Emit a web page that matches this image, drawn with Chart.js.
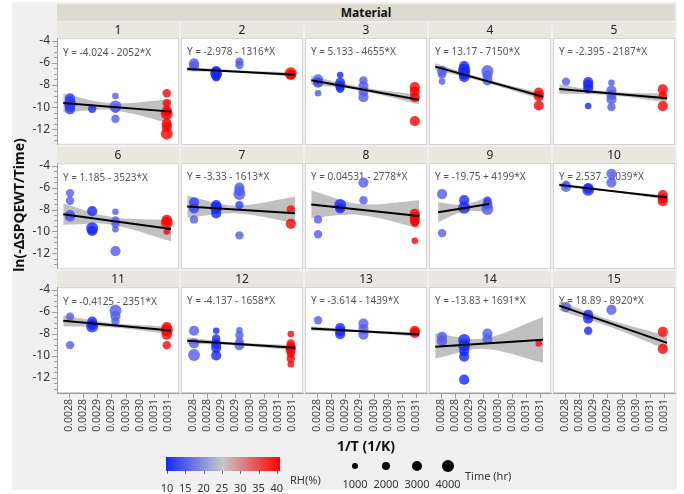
<!DOCTYPE html>
<html>
<head>
<meta charset="utf-8">
<script src="https://cdn.jsdelivr.net/npm/chart.js@4.4.1/dist/chart.umd.min.js"></script>
<style>
  body { margin: 0; background: #fff; font-family: "Noto Sans", sans-serif; }
  .abs { position: absolute; }
  #bg { left: 12px; top: 2px; width: 665px; height: 488px; background: #f0f0f0; }
  .strip { background: #e9e7df; color: #222; font-size: 12px; text-align: center; line-height: 16px; height: 16px; }
  .hdr { background: #dddbd1; color: #111; font-size: 12px; font-weight: bold; text-align: center; line-height: 17px; height: 17px; }
  .ttl { font-weight: bold; font-size: 14px; color: #111; text-align: center; line-height: 18px; white-space: nowrap; }
  .lg { font-size: 11px; color: #333; line-height: 14px; white-space: nowrap; }
</style>
</head>
<body>
<div id="bg" class="abs"></div>
<script>
// facet labels and fitted equations
const panelNames = ["1", "2", "3", "4", "5", "6", "7", "8", "9", "10", "11", "12", "13", "14", "15"];
const equations = [
  "Y = -4.024 - 2052*X", "Y = -2.978 - 1316*X", "Y = 5.133 - 4655*X", "Y = 13.17 - 7150*X", "Y = -2.395 - 2187*X",
  "Y = 1.185 - 3523*X", "Y = -3.33 - 1613*X", "Y = 0.04531 - 2778*X", "Y = -19.75 + 4199*X", "Y = 2.537 - 3039*X",
  "Y = -0.4125 - 2351*X", "Y = -4.137 - 1658*X", "Y = -3.614 - 1439*X", "Y = -13.83 + 1691*X", "Y = 18.89 - 8920*X"
];

// 1/T of the four storage temperatures
const invT = [0.002754, 0.002832, 0.002914, 0.003095];

// axis ticks
const xTickValues = [0.00275, 0.0028, 0.00285, 0.0029, 0.00295, 0.003, 0.00305, 0.0031];
const xTickLabels = ["0.0028", "0.0028", "0.0029", "0.0029", "0.0030", "0.0030", "0.0031", "0.0031"];
const yTickValues = [-4, -6, -8, -10, -12];
const xMin = 0.002708, xMax = 0.003138;
const yMin = -13.41, yMax = -3.77;

// fit lines (ends of the fitted range)
const lineStartX = [0.00273, 0.00273, 0.00273, 0.00273, 0.00273, 0.00273, 0.00273, 0.00273, 0.00274, 0.00273, 0.00273, 0.00273, 0.00273, 0.00273, 0.00273];
const lineEndX = [0.00311, 0.00311, 0.00311, 0.00311, 0.00311, 0.00311, 0.00311, 0.00311, 0.00292, 0.00311, 0.00311, 0.00311, 0.00311, 0.00311, 0.00311];
const lineStartY = [-9.63, -6.57, -7.58, -6.35, -8.37, -8.43, -7.73, -7.54, -8.25, -5.76, -6.83, -8.66, -7.54, -9.21, -5.46];
const lineEndY = [-10.41, -7.07, -9.34, -9.07, -9.20, -9.77, -8.35, -8.59, -7.49, -6.91, -7.72, -9.29, -8.09, -8.57, -8.85];

// confidence bands: [left, middle, right]
const bandMidX = [0.0029, 0.0029, 0.0029, 0.0029, 0.0029, 0.0029, 0.0029, 0.0029, 0.00283, 0.0029, 0.0029, 0.0029, 0.0029, 0.0029, 0.0029];
const bandUpper = [
  [-8.8, -9.66, -9.3], [-6.38, -6.68, -6.88], [-7.2, -8.17, -8.9], [-6.05, -7.42, -8.77], [-7.95, -8.6, -8.8],
  [-7.45, -8.68, -8.95], [-6.75, -7.65, -6.85], [-6.25, -7.5, -7.15], [-7.35, -7.57, -6.8], [-5.6, -6.2, -6.72],
  [-6.35, -7.03, -7.37], [-8.36, -8.82, -9.04], [-7.34, -7.69, -7.89], [-8.0, -8.45, -6.5], [-5.05, -6.7, -8.2]
];
const bandLower = [
  [-10.5, -10.26, -11.5], [-6.76, -6.88, -7.26], [-7.95, -8.47, -9.75], [-6.65, -7.72, -9.37], [-8.8, -8.9, -9.55],
  [-9.4, -9.38, -10.9], [-8.75, -8.35, -9.25], [-8.77, -8.5, -9.7], [-9.15, -8.17, -8.2], [-5.92, -6.36, -7.1],
  [-7.35, -7.43, -8.07], [-8.96, -9.06, -9.54], [-7.74, -7.89, -8.29], [-10.3, -9.4, -10.65], [-5.9, -7.3, -9.5]
];

// points: [temperature index, ln value, RH %, time hr]
const pts1 = [[0,-9.2,12,3000],[0,-9.45,12,3000],[0,-9.7,12,4000],[0,-9.95,12,3000],[0,-10.2,12,3000],[1,-10.15,10,2000],
  [2,-9.0,15,1000],[2,-9.95,15,4000],[2,-10.15,15,2000],[2,-11.05,15,2000],
  [3,-8.75,40,2000],[3,-9.65,40,2000],[3,-10.35,40,3000],[3,-10.6,40,4000],[3,-11.5,40,3000],[3,-11.8,40,3000],[3,-12.4,40,4000]];
const pts2 = [[0,-6.05,15,3000],[0,-6.3,15,3000],[1,-6.75,10,3000],[1,-6.95,10,4000],[1,-7.15,10,3000],[1,-7.3,10,2000],
  [2,-5.9,15,2000],[2,-6.2,15,2000],[3,-6.95,40,4000],[3,-7.1,40,3000]];
const pts3 = [[0,-7.5,15,3000],[0,-7.8,12,3000],[0,-8.75,15,1000],[1,-7.1,10,1000],[1,-7.8,10,3000],[1,-8.1,10,3000],[1,-8.35,10,2000],
  [2,-7.6,15,2000],[2,-8.1,15,3000],[2,-8.6,15,3000],[2,-9.1,15,3000],[3,-8.2,40,3000],[3,-8.6,40,3000],[3,-9.1,40,3000],[3,-11.25,40,3000]];
const pts4 = [[0,-6.75,15,3000],[0,-7.05,15,2000],[0,-7.7,15,1000],[1,-6.3,10,3000],[1,-6.6,10,4000],[1,-6.9,10,4000],[1,-7.1,10,3000],[1,-7.3,10,3000],
  [2,-6.75,15,4000],[2,-7.15,15,3000],[2,-7.6,15,3000],[3,-8.7,40,3000],[3,-9.0,40,3000],[3,-9.85,40,3000]];
const pts5 = [[0,-7.7,15,2000],[1,-7.75,10,3000],[1,-8.0,10,3000],[1,-8.3,10,3000],[1,-9.9,10,1000],
  [2,-7.8,15,1000],[2,-8.5,15,3000],[2,-8.9,15,3000],[2,-9.3,15,3000],[2,-10.0,15,2000],[3,-8.4,40,3000],[3,-8.95,40,2000],[3,-9.9,40,3000]];
const pts6 = [[0,-6.5,15,2000],[0,-7.2,15,2000],[0,-8.5,15,3000],[0,-8.65,15,3000],[1,-8.15,10,3000],[1,-9.7,10,4000],[1,-9.95,10,3000],
  [2,-8.2,15,1000],[2,-9.0,15,2000],[2,-9.3,15,2000],[2,-9.8,15,1000],[2,-11.8,15,3000],[3,-8.95,40,3000],[3,-9.2,40,4000],[3,-10.0,40,1000]];
const pts7 = [[0,-7.35,12,3000],[0,-7.9,12,3000],[0,-8.9,15,2000],[1,-7.6,10,3000],[1,-7.85,10,4000],[1,-8.35,10,3000],
  [2,-6.0,15,3000],[2,-6.3,15,3000],[2,-6.6,15,4000],[2,-7.6,12,2000],[2,-10.35,15,2000],[3,-8.0,40,2000],[3,-9.3,40,3000]];
const pts8 = [[0,-8.9,15,2000],[0,-10.25,15,2000],[1,-7.6,10,4000],[1,-7.9,10,3000],[2,-5.55,15,3000],[2,-7.15,15,2000],
  [3,-8.4,40,3000],[3,-8.7,40,3000],[3,-9.0,40,3000],[3,-9.2,40,2000],[3,-10.85,40,1000]];
const pts9 = [[0,-6.6,15,3000],[0,-10.15,15,2000],[1,-7.15,10,3000],[1,-7.85,10,4000],[2,-7.2,12,2000],[2,-7.55,12,3000],[2,-7.95,15,4000]];
const pts10 = [[0,-5.75,15,2000],[0,-5.95,15,3000],[1,-6.05,10,3000],[1,-6.2,10,4000],[2,-4.75,15,3000],[2,-5.55,15,3000],
  [3,-6.7,40,3000],[3,-7.0,40,3000],[3,-7.25,40,3000]];
const pts11 = [[0,-6.45,15,2000],[0,-9.05,15,2000],[1,-6.9,10,3000],[1,-7.15,10,3000],[1,-7.35,10,4000],[2,-5.9,15,4000],[2,-6.4,15,3000],[2,-6.9,15,2000],
  [3,-7.4,40,3000],[3,-7.7,40,4000],[3,-8.1,40,3000],[3,-9.05,40,2000]];
const pts12 = [[0,-7.75,15,3000],[0,-8.9,15,3000],[0,-9.95,15,4000],[1,-7.75,10,1000],[1,-8.45,10,2000],[1,-8.95,10,3000],[1,-9.3,10,3000],[1,-10.0,10,3000],
  [2,-7.7,15,1000],[2,-8.15,15,2000],[2,-8.75,15,2000],[2,-9.05,15,3000],
  [3,-8.05,40,1000],[3,-8.9,40,2000],[3,-9.25,40,3000],[3,-9.5,40,3000],[3,-9.85,40,2000],[3,-10.3,40,2000],[3,-10.8,40,1000]];
const pts13 = [[0,-6.8,15,2000],[1,-7.5,10,3000],[1,-7.8,10,3000],[1,-8.05,10,3000],[2,-7.1,15,3000],[2,-7.6,15,3000],[2,-8.1,15,3000],
  [3,-7.75,40,3000],[3,-7.95,40,3000]];
const pts14 = [[0,-8.3,15,3000],[0,-8.7,15,3000],[1,-8.6,10,4000],[1,-9.1,10,4000],[1,-9.6,10,3000],[1,-10.1,10,3000],[1,-12.2,10,3000],
  [2,-8.0,15,3000],[2,-8.5,15,3000],[3,-8.9,40,1000]];
const pts15 = [[0,-5.6,15,3000],[1,-6.3,10,3000],[1,-6.65,10,3000],[1,-7.75,10,2000],[2,-5.85,15,3000],[3,-7.85,40,3000],[3,-9.4,40,3000]];
const panelPoints = [pts1, pts2, pts3, pts4, pts5, pts6, pts7, pts8, pts9, pts10, pts11, pts12, pts13, pts14, pts15];

// legends
const rhStops = [10, 25, 40];
const rhColors = [[20, 40, 255], [200, 200, 200], [255, 0, 0]];
const rhLabels = ["10", "15", "20", "25", "30", "35", "40"];
const timeLegend = [1000, 2000, 3000, 4000];

Chart.defaults.font.family = "Noto Sans";

function rhColor(rh, a) {
  const k = rh <= rhStops[1] ? 0 : 1;
  const t = Math.min(1, Math.max(0, (rh - rhStops[k]) / (rhStops[k + 1] - rhStops[k])));
  const c = rhColors[k].map((v, j) => Math.round(v + (rhColors[k + 1][j] - v) * t));
  return "rgba(" + c[0] + "," + c[1] + "," + c[2] + "," + a + ")";
}
function timeRadius(hr) { return 2.4 + 0.9 * hr / 1000; }

function addDiv(cls, text, css) {
  const d = document.createElement("div");
  d.className = "abs " + cls;
  d.textContent = text;
  Object.assign(d.style, css);
  document.body.appendChild(d);
  return d;
}

const PL = [57, 181, 305, 429, 553], PW = 122;
const PT = [38, 163, 287], PH = [107, 106, 106];

const panelPlugin = {
  id: "panel",
  beforeDraw(chart) {
    const a = chart.chartArea, ctx = chart.ctx;
    ctx.save();
    ctx.fillStyle = "#fff";
    ctx.fillRect(a.left, a.top, a.right - a.left, a.bottom - a.top);
    ctx.strokeStyle = "#d2d2d2";
    ctx.strokeRect(a.left + 0.5, a.top + 0.5, a.right - a.left - 1, a.bottom - a.top - 1);
    ctx.restore();
  },
  beforeDatasetsDraw(chart) {
    const a = chart.chartArea, ctx = chart.ctx;
    ctx.save();
    ctx.fillStyle = "#555";
    ctx.font = "10px 'Noto Sans'";
    ctx.textBaseline = "middle";
    ctx.fillText(chart.options.plugins.panel.eq, a.left + 6, a.top + 14.5);
    ctx.restore();
  },
  afterDraw(chart) {
    const a = chart.chartArea, ctx = chart.ctx;
    ctx.save();
    ctx.strokeStyle = "#9c9c9c";
    ctx.lineWidth = 1;
    ctx.beginPath();
    if (chart.options.scales.y.display) {
      for (let v = -13; v <= -4; v += 0.5) {
        const py = Math.round(chart.scales.y.getPixelForValue(v)) + 0.5;
        const len = yTickValues.includes(v) ? 5 : 3;
        ctx.moveTo(a.left - len, py);
        ctx.lineTo(a.left, py);
      }
    }
    if (chart.options.scales.x.display) {
      xTickValues.forEach(v => {
        const px = Math.round(chart.scales.x.getPixelForValue(v)) + 0.5;
        ctx.moveTo(px, a.bottom);
        ctx.lineTo(px, a.bottom + 5);
      });
    }
    ctx.stroke();
    ctx.restore();
  }
};

addDiv("hdr", "Material", { left: "57px", top: "4px", width: "618px" });

panelNames.forEach((name, i) => {
  const r = Math.floor(i / 5), c = i % 5;
  const isLeft = c === 0, isBottom = r === 2;
  const padL = isLeft ? 45 : 10, padT = 14, padR = 10, padB = isBottom ? 50 : 14;

  addDiv("strip", name, { left: PL[c] + "px", top: (PT[r] - 16) + "px", width: PW + "px" });

  const cw = padL + PW + padR, ch = padT + PH[r] + padB;
  const cv = document.createElement("canvas");
  cv.width = cw;
  cv.height = ch;
  cv.className = "abs";
  cv.style.left = (PL[c] - padL) + "px";
  cv.style.top = (PT[r] - padT) + "px";
  cv.style.width = cw + "px";
  cv.style.height = ch + "px";
  document.body.appendChild(cv);

  const pts = panelPoints[i];
  new Chart(cv, {
    type: "scatter",
    data: {
      datasets: [
        {
          type: "line",
          data: [{ x: lineStartX[i], y: lineStartY[i] }, { x: lineEndX[i], y: lineEndY[i] }],
          borderColor: "#000", borderWidth: 2, pointRadius: 0, order: 0
        },
        {
          data: pts.map(p => ({ x: invT[p[0]], y: p[1] })),
          pointRadius: pts.map(p => timeRadius(p[3])),
          pointBackgroundColor: pts.map(p => rhColor(p[2], 0.8)),
          pointBorderWidth: 0, order: 1
        },
        {
          type: "line",
          data: [{ x: lineStartX[i], y: bandUpper[i][0] }, { x: bandMidX[i], y: bandUpper[i][1] }, { x: lineEndX[i], y: bandUpper[i][2] }],
          borderWidth: 0, pointRadius: 0, tension: 0.35, fill: false, order: 2
        },
        {
          type: "line",
          data: [{ x: lineStartX[i], y: bandLower[i][0] }, { x: bandMidX[i], y: bandLower[i][1] }, { x: lineEndX[i], y: bandLower[i][2] }],
          borderWidth: 0, pointRadius: 0, tension: 0.35, fill: "-1",
          backgroundColor: "rgba(115,115,115,0.45)", order: 3
        }
      ]
    },
    options: {
      responsive: false,
      maintainAspectRatio: false,
      animation: false,
      devicePixelRatio: 1,
      layout: { padding: { left: isLeft ? 0 : padL, top: padT, right: padR, bottom: isBottom ? 0 : padB } },
      plugins: { legend: { display: false }, tooltip: { enabled: false }, panel: { eq: equations[i] } },
      scales: {
        x: {
          type: "linear", min: xMin, max: xMax, display: isBottom,
          afterBuildTicks: s => { s.ticks = xTickValues.map(v => ({ value: v })); },
          afterFit: s => { s.height = isBottom ? 50 : 0; },
          ticks: {
            autoSkip: false, minRotation: 90, maxRotation: 90, padding: 6, color: "#444",
            font: { size: 10.5 }, callback: (v, idx) => xTickLabels[idx]
          },
          grid: { drawOnChartArea: false, drawTicks: false },
          border: { display: true, color: "#9c9c9c" }
        },
        y: {
          type: "linear", min: yMin, max: yMax, display: isLeft,
          afterBuildTicks: s => { s.ticks = yTickValues.map(v => ({ value: v })); },
          afterFit: s => { s.width = isLeft ? 45 : 0; },
          ticks: { padding: 7, color: "#333", font: { size: 12 }, callback: v => String(v) },
          grid: { drawOnChartArea: false, drawTicks: false },
          border: { display: true, color: "#9c9c9c" }
        }
      }
    },
    plugins: [panelPlugin]
  });
});

// axis titles
addDiv("ttl", "1/T (1/K)", { left: "266px", top: "437px", width: "200px" });
addDiv("ttl", "ln(-ΔSPQEWT/Time)", { left: "-81px", top: "196px", width: "200px", transform: "rotate(-90deg)" });

// RH colour legend
const grad = "linear-gradient(to right, " + rhColors.map(c => "rgb(" + c.join(",") + ")").join(", ") + ")";
addDiv("", "", { left: "166px", top: "457px", width: "114px", height: "14px", background: grad });
rhLabels.forEach((t, k) => {
  const x = 167 + k * 18.3;
  addDiv("", "", { left: Math.round(x) + "px", top: "471px", width: "1px", height: "3px", background: "#666" });
  addDiv("lg", t, { left: (x - 10) + "px", top: "481px", width: "20px", textAlign: "center" });
});
addDiv("lg", "RH(%)", { left: "290px", top: "473px" });

// time size legend
const dotX = [355, 386, 417, 448];
timeLegend.forEach((hr, k) => {
  const rad = timeRadius(hr);
  addDiv("", "", { left: (dotX[k] - rad) + "px", top: (466 - rad) + "px", width: (2 * rad) + "px", height: (2 * rad) + "px", borderRadius: "50%", background: "#000" });
  addDiv("lg", String(hr), { left: (dotX[k] - 16) + "px", top: "477px", width: "32px", textAlign: "center" });
});
addDiv("lg", "Time (hr)", { left: "465px", top: "469px" });
</script>
</body>
</html>
